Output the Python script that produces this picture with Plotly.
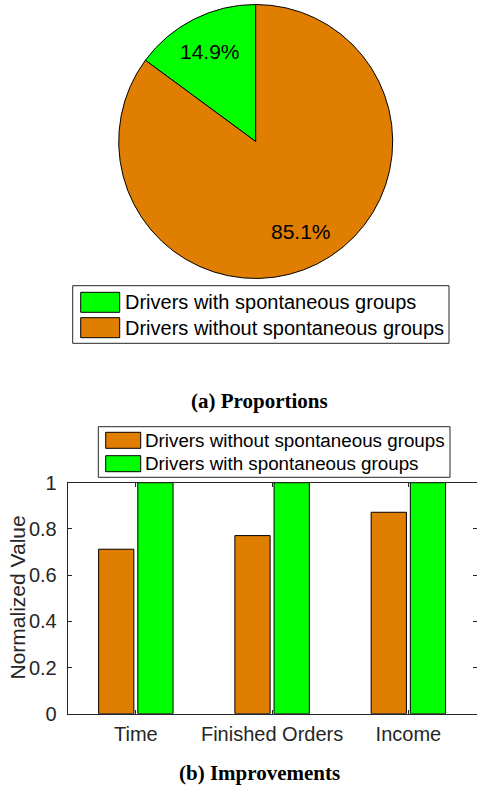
import math
import plotly.graph_objects as go

W, H = 477, 788

# ---- data ----
pie_labels = ["Drivers with spontaneous groups", "Drivers without spontaneous groups"]
pie_values = [14.9, 85.1]

categories = ["Time", "Finished Orders", "Income"]
series_names = ["Drivers without spontaneous groups", "Drivers with spontaneous groups"]
without_vals = [0.712, 0.771, 0.872]
with_vals = [1.0, 1.0, 1.0]
y_ticks = [0, 0.2, 0.4, 0.6, 0.8, 1]
y_tick_labels = ["0", "0.2", "0.4", "0.6", "0.8", "1"]
y_title = "Normalized Value"

ORANGE = "#DF7E00"
GREEN = "#00FF00"
AX = "#262626"


def px(x):
    return x / W


def py(y):
    return 1 - y / H


# pie geometry (pixels)
PCX, PCY, PR = 255.7, 141.5, 137.0
total = sum(pie_values)
start_rot = -pie_values[0] / total * 360.0  # first slice ends at 12 o'clock

fig = go.Figure()

fig.add_trace(go.Pie(
    labels=pie_labels, values=pie_values, sort=False,
    direction="clockwise", rotation=start_rot,
    marker=dict(colors=[GREEN, ORANGE], line=dict(color="black", width=1)),
    textinfo="none", textposition="none",
    domain=dict(x=[px(PCX - PR), px(PCX + PR)], y=[py(PCY + PR), py(PCY - PR)]),
    showlegend=False, hoverinfo="label+percent",
))

fig.add_trace(go.Bar(
    x=categories, y=without_vals, name=series_names[0],
    marker=dict(color=ORANGE, line=dict(color="black", width=1)),
    showlegend=False,
))
fig.add_trace(go.Bar(
    x=categories, y=with_vals, name=series_names[1],
    marker=dict(color=GREEN, line=dict(color="black", width=1)),
    showlegend=False,
))

shapes = []
annotations = []

# percentage labels placed along each slice bisector
acc = 0.0
for v in pie_values:
    mid = start_rot + (acc + v / 2) / total * 360.0  # degrees clockwise from 12 o'clock
    acc += v
    r = 0.74 * PR
    lx = PCX + r * math.sin(math.radians(mid))
    ly = PCY - r * math.cos(math.radians(mid))
    annotations.append(dict(xref="paper", yref="paper", x=px(lx), y=py(ly),
                            text=f"{v / total * 100:.1f}%", showarrow=False,
                            xanchor="center", yanchor="middle",
                            font=dict(family="Liberation Sans, Arial", size=21, color="black")))


def legend(box, items, sw_x, sw_w, sw_h, rows_y, text_x, fsize):
    x0, y0, x1, y1 = box
    shapes.append(dict(type="rect", xref="paper", yref="paper",
                       x0=px(x0), x1=px(x1), y0=py(y1), y1=py(y0),
                       line=dict(color=AX, width=1), fillcolor="white", layer="above"))
    for (name, col), yc in zip(items, rows_y):
        shapes.append(dict(type="rect", xref="paper", yref="paper",
                           x0=px(sw_x), x1=px(sw_x + sw_w),
                           y0=py(yc + sw_h / 2), y1=py(yc - sw_h / 2),
                           line=dict(color="black", width=1), fillcolor=col, layer="above"))
        annotations.append(dict(xref="paper", yref="paper", x=px(text_x), y=py(yc),
                                text=name, showarrow=False, xanchor="left", yanchor="middle",
                                font=dict(family="Liberation Sans, Arial", size=fsize, color="black")))


legend((72.7, 285.7, 449, 343.3),
       [(pie_labels[0], GREEN), (pie_labels[1], ORANGE)],
       80.7, 39, 20, [302.3, 327.7], 123, 20)

legend((98.3, 426.7, 450, 477.3),
       [(series_names[0], ORANGE), (series_names[1], GREEN)],
       105.7, 35, 16, [440.3, 463.7], 143, 18.8)

annotations.append(dict(xref="paper", yref="paper", x=px(259), y=py(401),
                        text="<b>(a) Proportions</b>", showarrow=False,
                        xanchor="center", yanchor="middle",
                        font=dict(family="Liberation Serif, Times New Roman", size=21, color="black")))
annotations.append(dict(xref="paper", yref="paper", x=px(259.5), y=py(773),
                        text="<b>(b) Improvements</b>", showarrow=False,
                        xanchor="center", yanchor="middle",
                        font=dict(family="Liberation Serif, Times New Roman", size=21, color="black")))
annotations.append(dict(xref="paper", yref="paper", x=px(16.5), y=py(598),
                        text=y_title, showarrow=False, textangle=-90,
                        xanchor="center", yanchor="middle",
                        font=dict(family="Liberation Sans, Arial", size=21, color=AX)))

fig.update_layout(
    width=W, height=H, margin=dict(l=0, r=0, t=0, b=0),
    paper_bgcolor="white", plot_bgcolor="white",
    barmode="group", bargap=0.425, bargroupgap=0.1,
    shapes=shapes, annotations=annotations,
    font=dict(family="Liberation Sans, Arial", color=AX),
    xaxis=dict(domain=[px(67.7), px(476.5)], range=[-0.5, 2.5], automargin=False,
               showline=True, linecolor=AX, linewidth=1, mirror="ticks",
               ticks="inside", ticklen=4, tickcolor=AX, showgrid=False,
               ticklabelstandoff=2,
               tickfont=dict(size=20, color=AX)),
    yaxis=dict(domain=[py(713.7), py(482.7)], range=[0, 1], automargin=False,
               tickvals=y_ticks, ticktext=y_tick_labels,
               showline=True, linecolor=AX, linewidth=1, mirror="ticks",
               ticks="inside", ticklen=4, tickcolor=AX, showgrid=False, zeroline=False,
               ticklabelstandoff=6,
               tickfont=dict(size=20, color=AX)),
    hovermode=False,
)

fig.write_html("out.html", config={"displayModeBar": False},
               post_script="document.body.style.margin='0px';document.body.style.overflow='hidden';")
